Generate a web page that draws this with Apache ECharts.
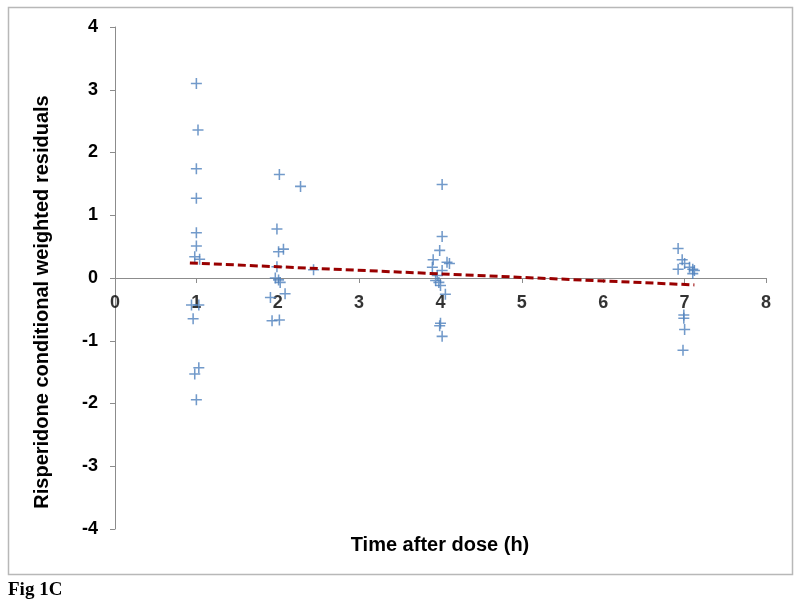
<!DOCTYPE html>
<html>
<head>
<meta charset="utf-8">
<script src="https://cdn.jsdelivr.net/npm/echarts@6/dist/echarts.min.js"></script>
<style>
html,body{margin:0;padding:0;background:#fff;}
#chart{width:800px;height:608px;}
</style>
</head>
<body>
<div id="chart"></div>
<script>
// Time after dose (h) for each residual
var residualTimes = [
  1.00, 1.02, 1.00, 1.00, 1.00, 1.00, 0.98, 1.04, 0.94, 1.03, 0.96, 1.03, 0.98, 1.00,
  2.02, 2.28, 1.99, 2.07, 2.01, 1.99, 2.44, 1.97, 2.01, 2.03, 2.09, 1.91, 1.93, 2.02,
  4.02, 4.02, 3.99, 3.91, 4.08, 4.11, 3.90, 4.02, 3.96, 3.94, 3.98, 4.00, 4.06, 4.00, 3.99, 4.02,
  6.92, 6.97, 7.00, 6.92, 7.06, 7.10, 7.12, 7.10, 6.99, 6.99, 7.00, 6.98
];
// Risperidone conditional weighted residuals
var residualValues = [
  3.10, 2.36, 1.74, 1.27, 0.72, 0.51, 0.34, 0.30, -0.43, -0.43, -0.65, -1.43, -1.53, -1.94,
  1.65, 1.46, 0.78, 0.46, 0.42, 0.18, 0.13, 0.00, -0.03, -0.07, -0.25, -0.31, -0.68, -0.67,
  1.49, 0.66, 0.44, 0.29, 0.25, 0.23, 0.17, 0.12, 0.04, -0.04, -0.07, -0.12, -0.26, -0.72, -0.76, -0.93,
  0.47, 0.29, 0.23, 0.14, 0.17, 0.14, 0.12, 0.07, -0.59, -0.64, -0.82, -1.15
];
// Linear trend line end points
var trendX = [0.92, 7.12];
var trendY = [0.24, -0.11];

var xTicks = [0, 1, 2, 3, 4, 5, 6, 7, 8];
var yTicks = [-4, -3, -2, -1, 0, 1, 2, 3, 4];

var scatterData = residualTimes.map(function (t, i) { return [t, residualValues[i]]; });
var trendData = trendX.map(function (t, i) { return [t, trendY[i]]; });
var xLabelData = xTicks.map(function (t) { return [t, 0]; });

var chart = echarts.init(document.getElementById('chart'), null, {renderer: 'canvas'});
var axisGrey = '#8c8c8c';
var labelFont = {fontFamily: 'Liberation Sans', fontWeight: 'bold', fontSize: 18, color: '#000'};

chart.setOption({
  animation: false,
  backgroundColor: '#fff',
  grid: {left: 115, right: 34, top: 27, bottom: 79, containLabel: false},
  xAxis: {
    type: 'value',
    min: xTicks[0], max: xTicks[xTicks.length - 1], interval: 1,
    axisLine: {onZero: true, lineStyle: {color: axisGrey, width: 1}},
    axisTick: {show: true, inside: false, length: 5, lineStyle: {color: axisGrey}},
    axisLabel: {show: false},
    splitLine: {show: false}
  },
  yAxis: {
    type: 'value',
    min: yTicks[0], max: yTicks[yTicks.length - 1], interval: 1,
    axisLine: {show: true, onZero: false, lineStyle: {color: axisGrey, width: 1}},
    axisTick: {show: true, inside: false, length: 5, lineStyle: {color: axisGrey}},
    axisLabel: Object.assign({margin: 17}, labelFont),
    splitLine: {show: false}
  },
  series: [
    {
      type: 'scatter',
      data: scatterData,
      symbol: 'path://M4.3,0H5.7V4.3H10V5.7H5.7V10H4.3V5.7H0V4.3H4.3Z',
      symbolSize: 11,
      itemStyle: {color: '#4f81bd'},
      z: 3
    },
    {
      type: 'line',
      data: trendData,
      symbol: 'none',
      lineStyle: {color: '#990000', width: 3, type: [8, 4]},
      z: 4
    },
    {
      type: 'scatter',
      data: xLabelData,
      symbol: 'circle',
      symbolSize: 1,
      silent: true,
      itemStyle: {color: 'rgba(0,0,0,0)'},
      label: {
        show: true, position: 'bottom', distance: 16,
        formatter: function (p) { return String(p.value[0]); },
        fontFamily: 'Liberation Sans', fontWeight: 'bold', fontSize: 18, color: '#000'
      },
      z: 2
    }
  ],
  graphic: [
    {
      type: 'rect',
      shape: {x: 8.5, y: 7.5, width: 784, height: 567},
      style: {fill: 'none', stroke: '#b8b8b8', lineWidth: 1.5},
      silent: true, z: -1
    },
    {
      type: 'text',
      x: 42, y: 302,
      rotation: Math.PI / 2,
      style: {
        text: 'Risperidone conditional weighted residuals',
        fontFamily: 'Liberation Sans', fontWeight: 'bold', fontSize: 20,
        fill: '#000', textAlign: 'center', textVerticalAlign: 'middle'
      }
    },
    {
      type: 'text',
      x: 440, y: 545,
      style: {
        text: 'Time after dose (h)',
        fontFamily: 'Liberation Sans', fontWeight: 'bold', fontSize: 20,
        fill: '#000', textAlign: 'center', textVerticalAlign: 'middle'
      }
    },
    {
      type: 'text',
      x: 8, y: 590,
      style: {
        text: 'Fig 1C',
        fontFamily: 'Liberation Serif', fontWeight: 'bold', fontSize: 19,
        fill: '#000', textAlign: 'left', textVerticalAlign: 'middle'
      }
    }
  ]
});
</script>
</body>
</html>
